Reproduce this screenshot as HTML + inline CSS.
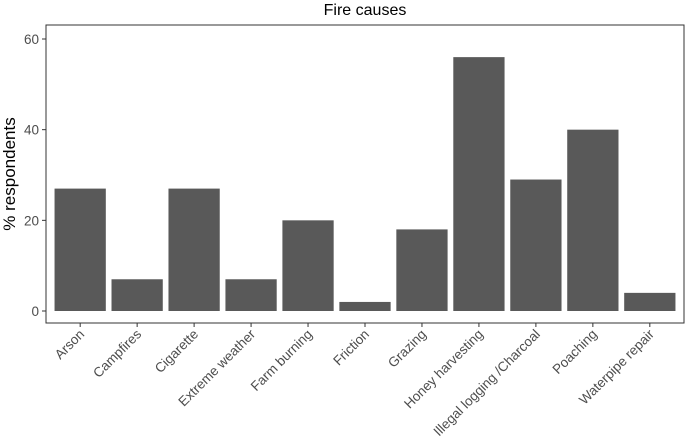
<!DOCTYPE html>
<html><head><meta charset="utf-8"><style>
body{margin:0;background:#fff;}
svg{display:block;font-family:"Liberation Sans",sans-serif;}
</style></head><body>
<svg id="c" width="685" height="437">
<text x="365" y="15" text-anchor="middle" font-size="16" fill="#000">Fire causes</text>
<text transform="translate(15,174) rotate(-90)" text-anchor="middle" font-size="17" fill="#000">% respondents</text>
<rect x="46" y="25" width="638" height="298" fill="none" stroke="#333" stroke-width="1"/>
<g id="bars"></g><g id="axes"></g>
</svg>
<script>
const categories=["Arson","Campfires","Cigarette","Extreme weather","Farm burning","Friction","Grazing","Honey harvesting","Illegal logging /Charcoal","Poaching","Waterpipe repair"];
const values=[27,7,27,7,20,2,18,56,29,40,4];
const yTicks=[0,20,40,60];
const NS="http://www.w3.org/2000/svg";
const x0=46,x1=684;
function xs(i){return x0+(i+1-0.4)*(x1-x0)/(categories.length+0.2);}
function ys(v){return 311-v*(311-39)/60;}
const bw=0.9*(x1-x0)/(categories.length+0.2);
const bars=document.getElementById('bars'),axes=document.getElementById('axes');
function mk(t,a,p){const e=document.createElementNS(NS,t);for(const k in a)e.setAttribute(k,a[k]);p.appendChild(e);return e;}
categories.forEach((c,i)=>{
 const r=mk('rect',{x:xs(i)-bw/2,y:ys(values[i]),width:bw,height:ys(0)-ys(values[i]),fill:'#595959'},bars);
 
 
 mk('line',{x1:xs(i),x2:xs(i),y1:323,y2:327,stroke:'#333'},axes);
 const t=mk('text',{x:0,y:0,'text-anchor':'end','font-size':'13.5',fill:'#4d4d4d',transform:`translate(${xs(i)+5},${335}) rotate(-45)`},axes);
 t.textContent=c;
 
 
});
yTicks.forEach(v=>{
 mk('line',{x1:42,x2:46,y1:ys(v),y2:ys(v),stroke:'#333'},axes);
 const t=mk('text',{x:39,y:ys(v)+5,'text-anchor':'end','font-size':'13.5',fill:'#4d4d4d'},axes);
 t.textContent=v;
 
 
});
</script>
</body></html>
